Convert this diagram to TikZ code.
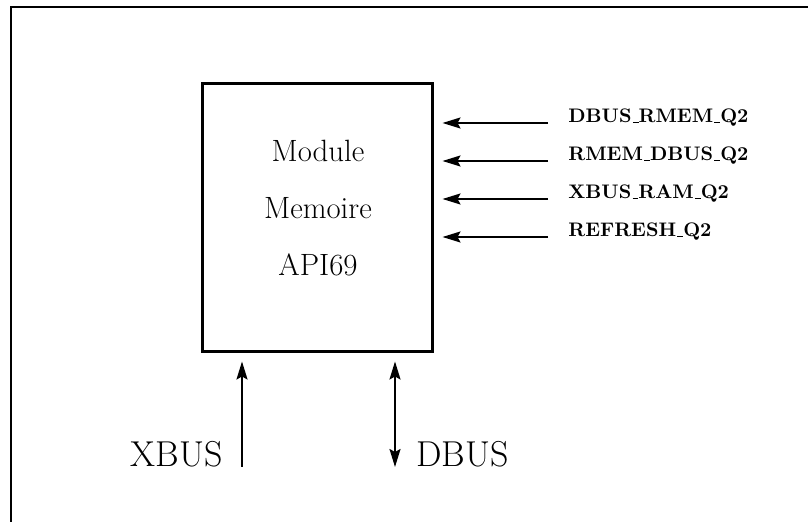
\documentclass[tikz,border=0pt]{standalone}
\usetikzlibrary{arrows.meta,positioning}
\newcommand{\sigsep}{\leavevmode\kern.06em\vbox{\hrule width.3em height.5pt}}
\begin{document}
\begin{tikzpicture}[x=0.5pt, y=-0.5pt,
    membox/.style = {draw, line width=1.5pt, minimum width=115pt, minimum height=134pt, inner sep=0pt},
    memtext/.style = {align=center, font=\fontsize{15.4}{28.5}\selectfont},
    bustext/.style = {font=\fontsize{18}{22}\selectfont, inner sep=0pt},
    sigtext/.style = {font=\fontsize{9.8}{12}\selectfont\bfseries, inner sep=0pt},
    sig/.style = {line width=1pt, -{Stealth[length=9pt, width=5.5pt, inset=1.5pt]}},
    bisig/.style = {line width=1pt, {Stealth[length=9pt, width=5.5pt, inset=1.5pt]}-{Stealth[length=9pt, width=5.5pt, inset=1.5pt]}}]
  \useasboundingbox (0, 0) rectangle (808, 522);
  % frame
  \draw[line width=1pt] (11, 522) -- (11, 7.5) -- (808, 7.5);
  % module
  \node[membox] (mem) at (317, 218) {};
  \node[memtext] (memlbl) at (318, 208) {Module\\Memoire\\API69};
  % signals on the right
  \coordinate (s1) at (548, 123);
  \coordinate (s2) at (548, 161);
  \coordinate (s3) at (548, 199);
  \coordinate (s4) at (548, 237);
  \node[sigtext, base right=10pt of s1] (l1) {DBUS\sigsep RMEM\sigsep Q2};
  \node[sigtext, base right=10pt of s2] (l2) {RMEM\sigsep DBUS\sigsep Q2};
  \node[sigtext, base right=10pt of s3] (l3) {XBUS\sigsep RAM\sigsep Q2};
  \node[sigtext, base right=10pt of s4] (l4) {REFRESH\sigsep Q2};
  \foreach \s in {s1, s2, s3, s4}
    \draw[sig, shorten >=4.5pt] (\s) -- (\s -| mem.east);
  % buses
  \coordinate (xb) at (242, 467);
  \coordinate (db) at (395, 467);
  \node[bustext, base left=9.5pt of xb] (xbus) {XBUS};
  \node[bustext, base right=10.5pt of db] (dbus) {DBUS};
  \draw[sig, shorten >=4pt] (xb) -- (xb |- mem.south);
  \draw[bisig, shorten >=4pt] (db) -- (db |- mem.south);
\end{tikzpicture}
\end{document}
